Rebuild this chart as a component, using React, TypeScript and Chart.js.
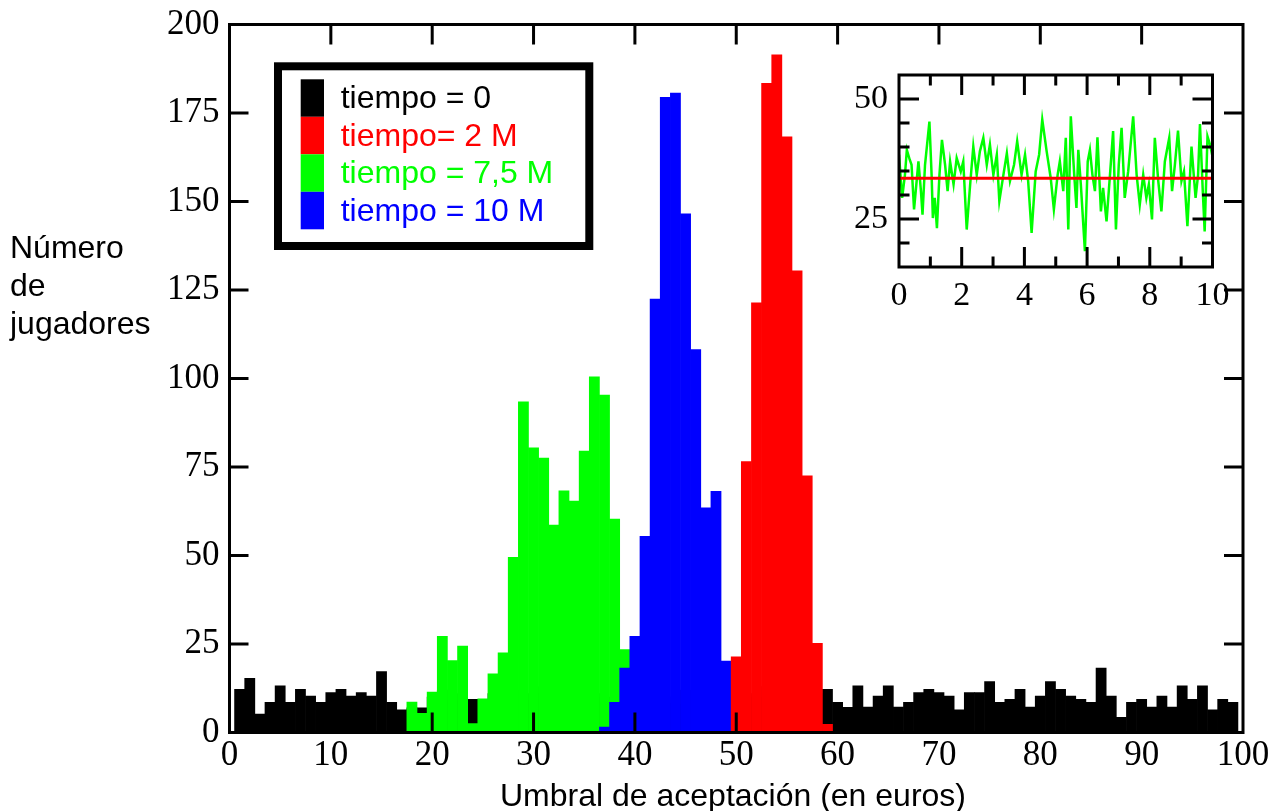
import React, { useEffect, useRef } from "react";
import { Chart, registerables } from "chart.js";

Chart.register(...registerables);

// ---------- Main histogram data (bin centre = umbral in euros) ----------
const t0Bins = [
  1, 2, 3, 4, 5, 6, 7, 8, 9, 10, 11, 12, 13, 14, 15, 16, 17, 18, 19, 20,
  21, 22, 23, 24, 25, 26, 27, 28, 29, 30, 31, 32, 33, 34, 35, 36, 37, 38, 39, 40,
  41, 42, 43, 44, 45, 46, 47, 48, 49, 50, 51, 52, 53, 54, 55, 56, 57, 58, 59, 60,
  61, 62, 63, 64, 65, 66, 67, 68, 69, 70, 71, 72, 73, 74, 75, 76, 77, 78, 79, 80,
  81, 82, 83, 84, 85, 86, 87, 88, 89, 90, 91, 92, 93, 94, 95, 96, 97, 98, 99,
];
const t0Values = [
  12.2, 15.3, 5.2, 8.5, 13.2, 8.5, 12.2, 10.3, 8.5, 11.3,
  12.2, 10.3, 11.3, 10.3, 17.2, 8.5, 6.4, 7, 7.0, 10,
  12, 9, 11, 9.4, 8, 11, 10, 12, 9, 11,
  13, 8, 10, 12, 9, 11, 10, 8, 12, 11,
  9, 13, 10, 8, 12, 11, 9, 10, 12, 9,
  11, 10, 13, 8, 10, 12, 9, 11, 12.2, 8.5,
  7.1, 13.2, 7.2, 10.3, 13.2, 7.2, 8.5, 11.3, 12.2, 11.3,
  10.3, 6.4, 11.3, 11.3, 14.4, 8.5, 9.4, 12.2, 7.2, 10.3,
  14.4, 12.2, 10.3, 9.4, 8.5, 18.2, 10.3, 4.3, 8.5, 9.4,
  7.2, 10.3, 7.2, 13.2, 9.4, 13.2, 6.4, 9.4, 8.5,
];

const t2Bins = [50, 51, 52, 53, 54, 55, 56, 57, 58, 59];
const t2Values = [21.4, 76.5, 121.4, 183.4, 191.4, 168.3, 130.4, 72.5, 25.2, 2.3];

const t75Bins = [
  18, 19, 20, 21, 22, 23, 24, 25, 26, 27, 28, 29, 30, 31, 32, 33, 34, 35, 36, 37, 38, 39, 40, 41,
];
const t75Values = [
  8.6, 5.4, 11.4, 27.2, 20.3, 24.4, 2.5, 9.5, 16.6, 22.5, 49.5, 93.4, 80.4, 77.5, 58.6, 68.3,
  65.4, 79.5, 100.5, 95.3, 60.3, 23.4, 12, 4,
];

const t10Bins = [37, 38, 39, 40, 41, 42, 43, 44, 45, 46, 47, 48, 49, 50];
const t10Values = [1.5, 8.5, 18.2, 27.2, 55.4, 122.4, 179.4, 180.6, 146.5, 108.2, 63.5, 68.1, 20.2, 5];

const seriesLabels = ["tiempo = 0", "tiempo= 2 M", "tiempo = 7,5 M", "tiempo = 10 M"];
const seriesColors = ["#000000", "#ff0000", "#00ff00", "#0000ff"];

const mainXTicks = [0, 10, 20, 30, 40, 50, 60, 70, 80, 90, 100];
const mainYTicks = [0, 25, 50, 75, 100, 125, 150, 175, 200];
const yTitleLines = ["Número", "de", "jugadores"];
const xTitle = "Umbral de aceptación (en euros)";

// ---------- Inset data ----------
const insetX = [
  0.0, 0.1, 0.19, 0.25, 0.34, 0.4, 0.48, 0.62, 0.7, 0.75, 0.83, 0.97, 1.04, 1.08, 1.14, 1.21,
  1.29, 1.37, 1.47, 1.55, 1.63, 1.74, 1.84, 1.97, 2.05, 2.16, 2.27, 2.37, 2.48, 2.58, 2.69, 2.8,
  2.9, 3.01, 3.12, 3.2, 3.33, 3.44, 3.54, 3.67, 3.77, 3.91, 4.02, 4.12, 4.23, 4.36, 4.47, 4.57,
  4.71, 4.84, 4.94, 5.06, 5.13, 5.24, 5.32, 5.4, 5.48, 5.59, 5.66, 5.72, 5.8, 5.93, 6.02, 6.09,
  6.17, 6.25, 6.33, 6.44, 6.51, 6.62, 6.73, 6.83, 6.92, 7.01, 7.1, 7.2, 7.31, 7.47, 7.58, 7.68,
  7.79, 7.89, 7.97, 8.07, 8.16, 8.27, 8.37, 8.48, 8.62, 8.71, 8.8, 8.9, 9.01, 9.09, 9.2, 9.33,
  9.46, 9.54, 9.6, 9.69, 9.75, 9.84, 9.92, 10.0,
];
const insetGreen = [
  38.4, 29.4, 34.2, 39.4, 37.4, 36.3, 27.0, 37.0, 30.8, 25.9, 36.3, 45.3, 34.2, 25.2, 29.4, 23.1,
  34.2, 41.5, 36.3, 30.8, 37.0, 32.2, 37.7, 34.9, 37.0, 22.8, 32.2, 40.1, 34.2, 39.1, 41.9, 36.3,
  40.5, 34.2, 38.4, 28.7, 34.2, 38.7, 32.9, 36.3, 41.2, 34.2, 38.4, 32.9, 22.1, 34.9, 38.4, 45.7,
  39.1, 33.5, 27.0, 34.2, 37.0, 30.8, 41.9, 22.8, 46.4, 34.2, 27.3, 39.4, 32.2, 18.3, 37.0, 39.4,
  34.2, 30.8, 42.0, 26.6, 31.5, 24.5, 34.2, 43.3, 22.8, 36.3, 44.0, 29.4, 34.9, 46.4, 34.2, 28.0,
  34.2, 29.4, 32.2, 24.9, 41.9, 32.9, 26.6, 37.0, 41.9, 30.8, 36.3, 43.4, 32.9, 34.9, 23.5, 40.1,
  29.4, 34.2, 44.8, 30.8, 22.4, 42.2, 40.5, 38.0,
];
const insetRedX = [0, 10];
const insetRedY = [33.5, 33.5];
const insetXLabels = [0, 2, 4, 6, 8, 10];
const insetXMinor = [1, 3, 5, 7, 9];
const insetYLabels = [25, 50];
const insetYMinor = [20, 30, 35, 40, 45];

const SERIF = "'Liberation Serif', 'Times New Roman', serif";
const SANS = "'Liberation Sans', Arial, sans-serif";

const toPoints = (xs: number[], ys: number[]) => xs.map((x, i) => ({ x, y: ys[i] }));

const noScalePad = (s: any) => {
  s.paddingTop = 0;
  s.paddingBottom = 0;
  s.paddingLeft = 0;
  s.paddingRight = 0;
};

const mainDecor = {
  id: "mainDecor",
  afterDraw(chart: any) {
    const { ctx, chartArea: a, scales } = chart;
    const xs = scales.x;
    const ys = scales.y;
    ctx.save();
    ctx.strokeStyle = "#000";
    ctx.lineWidth = 3;
    ctx.lineCap = "butt";
    ctx.beginPath();
    for (const v of mainXTicks) {
      if (v <= 0 || v >= 100) continue;
      const px = xs.getPixelForValue(v);
      ctx.moveTo(px, a.bottom);
      ctx.lineTo(px, a.bottom - 20);
      ctx.moveTo(px, a.top);
      ctx.lineTo(px, a.top + 20);
    }
    for (const v of mainYTicks) {
      if (v <= 0 || v >= 200) continue;
      const py = ys.getPixelForValue(v);
      ctx.moveTo(a.left, py);
      ctx.lineTo(a.left + 19, py);
      ctx.moveTo(a.right, py);
      ctx.lineTo(a.right - 19, py);
    }
    ctx.stroke();
    ctx.strokeRect(a.left, a.top, a.right - a.left, a.bottom - a.top);

    // Legend box
    ctx.lineWidth = 8;
    ctx.fillStyle = "#fff";
    ctx.fillRect(278, 66.3, 311.3, 179.7);
    ctx.strokeRect(278, 66.3, 311.3, 179.7);
    ctx.font = `32px ${SANS}`;
    ctx.textBaseline = "alphabetic";
    ctx.textAlign = "left";
    seriesLabels.forEach((label, i) => {
      ctx.fillStyle = seriesColors[i];
      ctx.fillRect(300.7, 79.3 + 37.5 * i, 23.3, 37.5);
      ctx.fillText(label, 340.7, 108.3 + 37.5 * i);
    });

    // Axis titles
    ctx.fillStyle = "#000";
    ctx.font = `32px ${SANS}`;
    yTitleLines.forEach((t, i) => ctx.fillText(t, 10, 258 + 38 * i));
    ctx.textAlign = "center";
    ctx.fillText(xTitle, 733, 806);
    ctx.restore();
  },
};

const insetDecor = {
  id: "insetDecor",
  afterDraw(chart: any) {
    const { ctx, chartArea: a, scales } = chart;
    const xs = scales.x;
    const ys = scales.y;
    ctx.save();
    ctx.strokeStyle = "#000";
    ctx.lineWidth = 3;
    ctx.beginPath();
    const xt = (v: number, len: number) => {
      const px = xs.getPixelForValue(v);
      ctx.moveTo(px, a.bottom);
      ctx.lineTo(px, a.bottom - len);
      ctx.moveTo(px, a.top);
      ctx.lineTo(px, a.top + len);
    };
    const yt = (v: number, len: number) => {
      const py = ys.getPixelForValue(v);
      ctx.moveTo(a.left, py);
      ctx.lineTo(a.left + len, py);
      ctx.moveTo(a.right, py);
      ctx.lineTo(a.right - len, py);
    };
    insetXLabels.forEach((v) => v > 0 && v < 10 && xt(v, 20));
    insetXMinor.forEach((v) => xt(v, 10.5));
    insetYLabels.forEach((v) => yt(v, 20));
    insetYMinor.forEach((v) => yt(v, 10.5));
    ctx.stroke();
    ctx.strokeRect(a.left, a.top, a.right - a.left, a.bottom - a.top);
    ctx.restore();
  },
};

export default function App() {
  const mainRef = useRef<HTMLCanvasElement>(null);
  const insetRef = useRef<HTMLCanvasElement>(null);

  useEffect(() => {
    const tickFont = { family: SERIF, size: 35 };
    const main = new Chart(mainRef.current as HTMLCanvasElement, {
      type: "bar",
      data: {
        datasets: [
          { label: seriesLabels[0], data: toPoints(t0Bins, t0Values), backgroundColor: seriesColors[0], order: 4 },
          { label: seriesLabels[1], data: toPoints(t2Bins, t2Values), backgroundColor: seriesColors[1], order: 1 },
          { label: seriesLabels[2], data: toPoints(t75Bins, t75Values), backgroundColor: seriesColors[2], order: 3 },
          { label: seriesLabels[3], data: toPoints(t10Bins, t10Values), backgroundColor: seriesColors[3], order: 2 },
        ] as any,
      },
      options: {
        animation: false,
        responsive: true,
        maintainAspectRatio: false,
        layout: { padding: { left: 0, top: 24.5, right: 33, bottom: 0 } },
        datasets: {
          bar: { grouped: false, barPercentage: 1, categoryPercentage: 1, borderWidth: 0 } as any,
        },
        plugins: { legend: { display: false }, tooltip: { enabled: false } },
        scales: {
          x: {
            type: "linear",
            min: 0,
            max: 100,
            offset: false,
            grid: { display: false, drawTicks: false },
            border: { display: false },
            ticks: { font: tickFont, color: "#000", padding: 2, maxRotation: 0, autoSkip: false },
            afterBuildTicks: (s: any) => {
              s.ticks = mainXTicks.map((v) => ({ value: v }));
            },
            afterFit: (s: any) => {
              s.height = 78.5;
              noScalePad(s);
            },
          },
          y: {
            type: "linear",
            min: 0,
            max: 200,
            grid: { display: false, drawTicks: false },
            border: { display: false },
            ticks: { font: tickFont, color: "#000", padding: 10, autoSkip: false },
            afterBuildTicks: (s: any) => {
              s.ticks = mainYTicks.map((v) => ({ value: v }));
            },
            afterFit: (s: any) => {
              s.width = 229.5;
              noScalePad(s);
            },
          },
        } as any,
      },
      plugins: [mainDecor],
    });

    const inset = new Chart(insetRef.current as HTMLCanvasElement, {
      type: "line",
      data: {
        datasets: [
          {
            label: "umbral medio",
            data: toPoints(insetRedX, insetRedY),
            borderColor: "#ff0000",
            borderWidth: 3,
            pointRadius: 0,
            order: 1,
          },
          {
            label: "umbral",
            data: toPoints(insetX, insetGreen),
            borderColor: "#00ff00",
            borderWidth: 2.5,
            pointRadius: 0,
            tension: 0,
            order: 2,
          },
        ] as any,
      },
      options: {
        animation: false,
        responsive: true,
        maintainAspectRatio: false,
        layout: { padding: { left: 0, top: 20, right: 37.5, bottom: 0 } },
        plugins: { legend: { display: false }, tooltip: { enabled: false } },
        scales: {
          x: {
            type: "linear",
            min: 0,
            max: 10,
            grid: { display: false, drawTicks: false },
            border: { display: false },
            ticks: { font: { family: SERIF, size: 34 }, color: "#000", padding: 9, maxRotation: 0, autoSkip: false },
            afterBuildTicks: (s: any) => {
              s.ticks = insetXLabels.map((v) => ({ value: v }));
            },
            afterFit: (s: any) => {
              s.height = 53;
              noScalePad(s);
            },
          },
          y: {
            type: "linear",
            min: 15,
            max: 55,
            grid: { display: false, drawTicks: false },
            border: { display: false },
            ticks: { font: { family: SERIF, size: 34 }, color: "#000", padding: 11, autoSkip: false },
            afterBuildTicks: (s: any) => {
              s.ticks = insetYLabels.map((v) => ({ value: v }));
            },
            afterFit: (s: any) => {
              s.width = 69;
              noScalePad(s);
            },
          },
        } as any,
      },
      plugins: [insetDecor],
    });

    return () => {
      main.destroy();
      inset.destroy();
    };
  }, []);

  return (
    <div style={{ position: "fixed", left: 0, top: 0, width: 1276, height: 811, background: "#fff" }}>
      <div style={{ position: "absolute", left: 0, top: 0, width: 1276, height: 811 }}>
        <canvas ref={mainRef} />
      </div>
      <div style={{ position: "absolute", left: 830, top: 55, width: 420, height: 265 }}>
        <canvas ref={insetRef} />
      </div>
    </div>
  );
}
